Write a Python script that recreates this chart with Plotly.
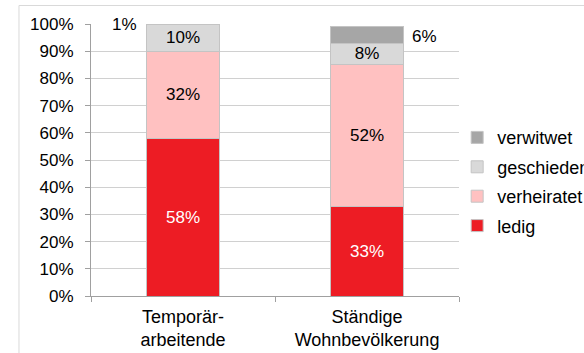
import plotly.graph_objects as go

# Marital status shares (%) for two population groups
categories = ["Temporär-<br>arbeitende", "Ständige<br>Wohnbevölkerung"]
ledig = [58, 33]
verheiratet = [32, 52]
geschieden = [10, 8]
verwitwet = [1, 6]

y_ticks = list(range(0, 101, 10))
y_tick_text = [f"{v}%" for v in y_ticks]

FONT = "Liberation Sans, Arial, sans-serif"
BAR_W = 0.395

series = [
    ("ledig", ledig, "#ED1C24", "white", True),
    ("verheiratet", verheiratet, "#FFC1C1", "black", True),
    ("geschieden", geschieden, "#D9D9D9", "black", True),
    ("verwitwet", verwitwet, "#A6A6A6", "black", False),
]

fig = go.Figure()
for i, (name, vals, color, txtcol, inside) in enumerate(series):
    fig.add_trace(go.Bar(
        name=name,
        x=categories,
        y=vals,
        width=BAR_W,
        marker=dict(color=color, line=dict(color="#C4C4C4", width=1)),
        text=[f"{v}%" for v in vals] if inside else ["" for _ in vals],
        textposition="inside",
        insidetextanchor="middle",
        textangle=0,
        textfont=dict(family=FONT, size=17, color=txtcol),
        legendgroup=name,
        legendrank=len(series) - i,
        hoverinfo="skip",
    ))

# Labels of the thin top segments, set beside the bars
tops = [l + v + g for l, v, g in zip(ledig, verheiratet, geschieden)]
anno_sides = [("right", -44), ("left", 43)]
for j, cat in enumerate(categories):
    anchor, shift = anno_sides[j]
    mid = tops[j] + verwitwet[j] / 2
    y_pos = min(mid, 100)
    fig.add_annotation(
        x=cat, y=y_pos,
        text=f"{verwitwet[j]}%", showarrow=False,
        xanchor=anchor, xshift=shift,
        yshift=(mid - y_pos) * 2.72 - 2,
        font=dict(family=FONT, size=17, color="black"),
    )

# Outer chart frame
fig.add_shape(
    type="rect", xref="paper", yref="paper",
    x0=-0.1957, x1=1.6, y0=-0.5, y1=1.068,
    line=dict(color="#D9D9D9", width=1), fillcolor="rgba(0,0,0,0)",
    layer="below",
)

fig.update_layout(
    barmode="stack",
    width=584, height=353,
    margin=dict(l=91, r=125, t=24, b=57, autoexpand=False),
    paper_bgcolor="white",
    plot_bgcolor="white",
    font=dict(family=FONT, size=17, color="black"),
    uniformtext=dict(minsize=17, mode="show"),
    showlegend=True,
    legend=dict(
        x=0.995, xanchor="left", y=0.65, yanchor="top",
        traceorder="grouped",
        font=dict(family=FONT, size=18, color="black"),
        tracegroupgap=3,
        bgcolor="rgba(0,0,0,0)",
        itemwidth=30,
    ),
    xaxis=dict(
        showline=True, linecolor="#A0A0A0", linewidth=1,
        ticks="outside", ticklen=5, tickcolor="#A0A0A0",
        tickson="boundaries",
        tickfont=dict(family=FONT, size=18),
        ticklabelstandoff=4,
        showgrid=False,
    ),
    yaxis=dict(
        range=[0, 100],
        tickvals=y_ticks, ticktext=y_tick_text,
        showline=True, linecolor="#A0A0A0", linewidth=1,
        ticks="outside", ticklen=5, tickcolor="#A0A0A0",
        showgrid=True, gridcolor="#D0D0D0", gridwidth=1,
        zeroline=False,
        tickfont=dict(family=FONT, size=17),
        ticklabelstandoff=8,
    ),
)

fig.write_html("out.html")
